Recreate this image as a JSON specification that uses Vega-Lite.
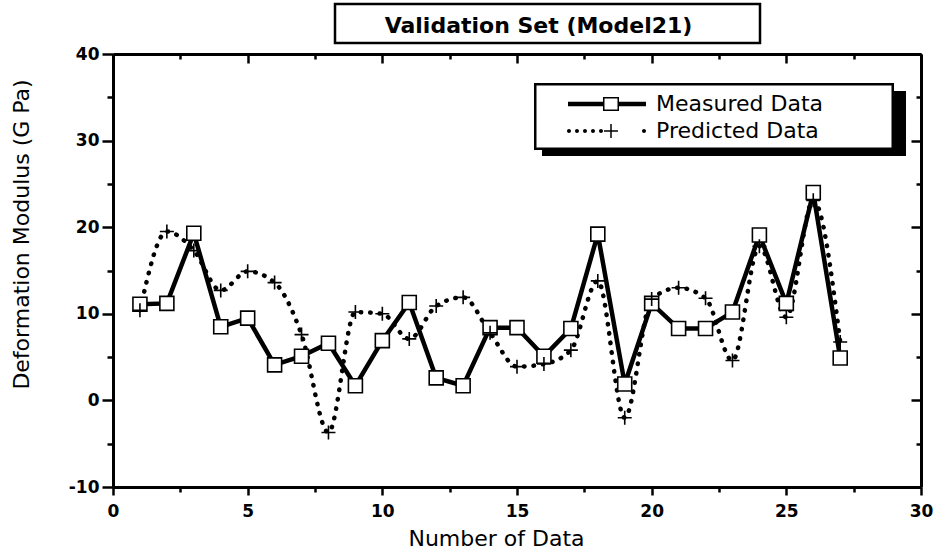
{
  "$schema": "https://vega.github.io/schema/vega-lite/v6.json",
  "padding": {"left": 9, "top": 2, "right": 2, "bottom": 5},
  "background": "white",
  "bounds": "full",
  "spacing": 0,
  "config": {
    "view": {"stroke": null},
    "axis": {"grid": false, "domainColor": "black", "tickColor": "black", "labelColor": "black", "titleColor": "black", "labelFont": "DejaVu Sans", "titleFont": "DejaVu Sans"},
    "legend": {"orient": "none", "title": null, "padding": 0, "symbolSize": 4, "symbolFillColor": "black", "symbolStrokeColor": "transparent", "symbolStrokeWidth": 0, "symbolOpacity": 1, "labelOffset": 100, "labelFont": "DejaVu Sans", "labelFontSize": 22, "labelColor": "black", "labelLimit": 400}
  },
  "datasets": {
    "ttl": [{"label": "Validation Set (Model21)"}],
    "pts": [
      {"n": 1, "series": "Measured Data", "value": 11.1},
      {"n": 2, "series": "Measured Data", "value": 11.2},
      {"n": 3, "series": "Measured Data", "value": 19.3},
      {"n": 4, "series": "Measured Data", "value": 8.5},
      {"n": 5, "series": "Measured Data", "value": 9.5},
      {"n": 6, "series": "Measured Data", "value": 4.1},
      {"n": 7, "series": "Measured Data", "value": 5.1},
      {"n": 8, "series": "Measured Data", "value": 6.6},
      {"n": 9, "series": "Measured Data", "value": 1.7},
      {"n": 10, "series": "Measured Data", "value": 6.9},
      {"n": 11, "series": "Measured Data", "value": 11.3},
      {"n": 12, "series": "Measured Data", "value": 2.6},
      {"n": 13, "series": "Measured Data", "value": 1.7},
      {"n": 14, "series": "Measured Data", "value": 8.4},
      {"n": 15, "series": "Measured Data", "value": 8.4},
      {"n": 16, "series": "Measured Data", "value": 5.1},
      {"n": 17, "series": "Measured Data", "value": 8.3},
      {"n": 18, "series": "Measured Data", "value": 19.2},
      {"n": 19, "series": "Measured Data", "value": 1.9},
      {"n": 20, "series": "Measured Data", "value": 11.2},
      {"n": 21, "series": "Measured Data", "value": 8.3},
      {"n": 22, "series": "Measured Data", "value": 8.3},
      {"n": 23, "series": "Measured Data", "value": 10.2},
      {"n": 24, "series": "Measured Data", "value": 19.1},
      {"n": 25, "series": "Measured Data", "value": 11.2},
      {"n": 26, "series": "Measured Data", "value": 24.0},
      {"n": 27, "series": "Measured Data", "value": 4.9},
      {"n": 1, "series": "Predicted Data", "value": 10.4},
      {"n": 2, "series": "Predicted Data", "value": 19.5},
      {"n": 3, "series": "Predicted Data", "value": 17.3},
      {"n": 4, "series": "Predicted Data", "value": 12.7},
      {"n": 5, "series": "Predicted Data", "value": 14.9},
      {"n": 6, "series": "Predicted Data", "value": 13.6},
      {"n": 7, "series": "Predicted Data", "value": 7.6},
      {"n": 8, "series": "Predicted Data", "value": -3.7},
      {"n": 9, "series": "Predicted Data", "value": 10.2},
      {"n": 10, "series": "Predicted Data", "value": 10.0},
      {"n": 11, "series": "Predicted Data", "value": 7.1},
      {"n": 12, "series": "Predicted Data", "value": 10.9},
      {"n": 13, "series": "Predicted Data", "value": 11.9},
      {"n": 14, "series": "Predicted Data", "value": 7.8},
      {"n": 15, "series": "Predicted Data", "value": 3.9},
      {"n": 16, "series": "Predicted Data", "value": 4.2},
      {"n": 17, "series": "Predicted Data", "value": 5.8},
      {"n": 18, "series": "Predicted Data", "value": 13.8},
      {"n": 19, "series": "Predicted Data", "value": -2.0},
      {"n": 20, "series": "Predicted Data", "value": 11.7},
      {"n": 21, "series": "Predicted Data", "value": 13.0},
      {"n": 22, "series": "Predicted Data", "value": 11.8},
      {"n": 23, "series": "Predicted Data", "value": 4.6},
      {"n": 24, "series": "Predicted Data", "value": 17.8},
      {"n": 25, "series": "Predicted Data", "value": 9.6},
      {"n": 26, "series": "Predicted Data", "value": 23.1},
      {"n": 27, "series": "Predicted Data", "value": 6.75}
    ]
  },
  "vconcat": [
    {
      "spacing": 0,
      "hconcat": [
        {"data": {"name": "ttl"}, "width": 220, "height": 39, "mark": {"type": "point", "opacity": 0}},
        {
          "data": {"name": "ttl"}, "width": 425, "height": 39,
          "view": {"stroke": "black", "strokeWidth": 2.5},
          "mark": {"type": "text", "font": "DejaVu Sans", "fontWeight": "bold", "fontSize": 22, "dx": -9, "dy": 2, "color": "black"},
          "encoding": {"text": {"field": "label"}}
        }
      ]
    },
    {
      "data": {"name": "pts"},
      "width": 808,
      "height": 433,
      "layer": [
        {
          "transform": [{"filter": "datum.series === 'Predicted Data'"}],
          "mark": {"type": "line", "interpolate": "monotone", "stroke": "black", "strokeWidth": 4.5, "strokeDash": [0.5, 9], "strokeCap": "round"},
          "encoding": {
            "x": {
              "field": "n", "type": "quantitative",
              "scale": {"domain": [0, 30], "nice": false, "zero": false},
              "axis": {
                "title": "Number of Data",
                "values": [0, 2.5, 5, 7.5, 10, 12.5, 15, 17.5, 20, 22.5, 25, 27.5, 30],
                "labelExpr": "datum.value % 5 === 0 ? '' + datum.value : ''",
                "tickSize": {"condition": {"test": "datum.value % 5 === 0", "value": 8}, "value": 5},
                "tickWidth": 2.5, "domainWidth": 3,
                "labelFontSize": 17, "labelFontWeight": "bold", "labelPadding": 8,
                "labelFlush": false, "labelOverlap": false,
                "titleFontSize": 22, "titleFontWeight": "normal",
                "titleX": 383, "titleY": 41, "titleBaseline": "top"
              }
            },
            "y": {
              "field": "value", "type": "quantitative",
              "scale": {"domain": [-10, 40], "nice": false, "zero": false},
              "axis": {
                "title": "Deformation Modulus (G Pa)",
                "values": [-10, -5, 0, 5, 10, 15, 20, 25, 30, 35, 40],
                "labelExpr": "datum.value % 10 === 0 ? '' + datum.value : ''",
                "tickSize": {"condition": {"test": "datum.value % 10 === 0", "value": 11}, "value": 6},
                "tickWidth": 2.5, "domainWidth": 3,
                "labelFontSize": 17, "labelFontWeight": "bold", "labelPadding": 3,
                "labelFlush": false, "labelOverlap": false,
                "titleFontSize": 22, "titleFontWeight": "normal",
                "titleX": -92, "titleY": 180, "titleBaseline": "middle"
              }
            }
          }
        },
        {
          "transform": [{"filter": "datum.series === 'Measured Data'"}],
          "mark": {"type": "line", "stroke": "black", "strokeWidth": 4.5},
          "encoding": {
            "x": {
              "field": "n", "type": "quantitative",
              "axis": {
                "orient": "top", "title": null, "labels": false,
                "values": [0, 2.5, 5, 7.5, 10, 12.5, 15, 17.5, 20, 22.5, 25, 27.5, 30],
                "tickSize": {"condition": {"test": "datum.value % 5 === 0", "value": -9}, "value": -5},
                "tickWidth": 2.5, "domainWidth": 3
              }
            },
            "y": {
              "field": "value", "type": "quantitative",
              "axis": {
                "orient": "right", "title": null, "labels": false,
                "values": [-10, -5, 0, 5, 10, 15, 20, 25, 30, 35, 40],
                "tickSize": {"condition": {"test": "datum.value % 10 === 0", "value": -10}, "value": -5},
                "tickWidth": 2.5, "domainWidth": 3
              }
            }
          }
        },
        {
          "transform": [{"filter": "datum.series === 'Measured Data'"}],
          "mark": {"type": "point", "filled": true, "strokeWidth": 1.6, "size": 196},
          "encoding": {
            "x": {"field": "n", "type": "quantitative", "axis": null},
            "y": {"field": "value", "type": "quantitative", "axis": null},
            "fill": {"field": "series", "type": "nominal", "scale": {"domain": ["Measured Data", "Predicted Data"], "range": ["white", "transparent"]}, "legend": null},
            "stroke": {"field": "series", "type": "nominal", "scale": {"domain": ["Measured Data", "Predicted Data"], "range": ["black", "black"]}, "legend": null},
            "shape": {"field": "series", "type": "nominal", "scale": {"domain": ["Measured Data", "Predicted Data"], "range": ["square", "M-1,0L1,0M0,-1L0,1"]}, "legend": null},
            "opacity": {
              "field": "series", "type": "nominal",
              "scale": {"domain": ["Measured Data"], "range": [1]},
              "legend": {
                "legendX": 421, "legendY": 39,
                "symbolType": "M-11,-21L349,-21L349,46L-11,46Z M-8.5,-18.5L-8.5,43.5L346.5,43.5L346.5,-18.5Z M349,-13L361,-13L361,52L-3,52L-3,46L349,46Z M23,-2.2L58,-2.2L58,2.2L23,2.2Z M74,-2.2L101,-2.2L101,2.2L74,2.2Z M58,-7L74,-7L74,7L58,7Z M59.5,-5.5L59.5,5.5L72.5,5.5L72.5,-5.5Z"
              }
            }
          }
        },
        {
          "transform": [{"filter": "datum.series === 'Predicted Data'"}],
          "mark": {"type": "point", "filled": true, "strokeWidth": 1.6, "size": 196},
          "encoding": {
            "x": {"field": "n", "type": "quantitative", "axis": null},
            "y": {"field": "value", "type": "quantitative", "axis": null},
            "fill": {"field": "series", "type": "nominal", "legend": null},
            "stroke": {"field": "series", "type": "nominal", "legend": null},
            "shape": {"field": "series", "type": "nominal", "legend": null},
            "opacity": {
              "field": "series", "type": "nominal",
              "scale": {"domain": ["Predicted Data"], "range": [1]},
              "legend": {
                "legendX": 421, "legendY": 66,
                "symbolType": "M22,0a2,2 0 1,0 4,0a2,2 0 1,0 -4,0Z M30,0a2,2 0 1,0 4,0a2,2 0 1,0 -4,0Z M38,0a2,2 0 1,0 4,0a2,2 0 1,0 -4,0Z M46,0a2,2 0 1,0 4,0a2,2 0 1,0 -4,0Z M54,0a2,2 0 1,0 4,0a2,2 0 1,0 -4,0Z M97,0a2,2 0 1,0 4,0a2,2 0 1,0 -4,0Z M59,-0.75L73,-0.75L73,0.75L59,0.75Z M65.25,-7L66.75,-7L66.75,7L65.25,7Z"
              }
            }
          }
        }
      ],
      "resolve": {"axis": {"x": "independent", "y": "independent"}, "scale": {"opacity": "independent"}}
    }
  ]
}
